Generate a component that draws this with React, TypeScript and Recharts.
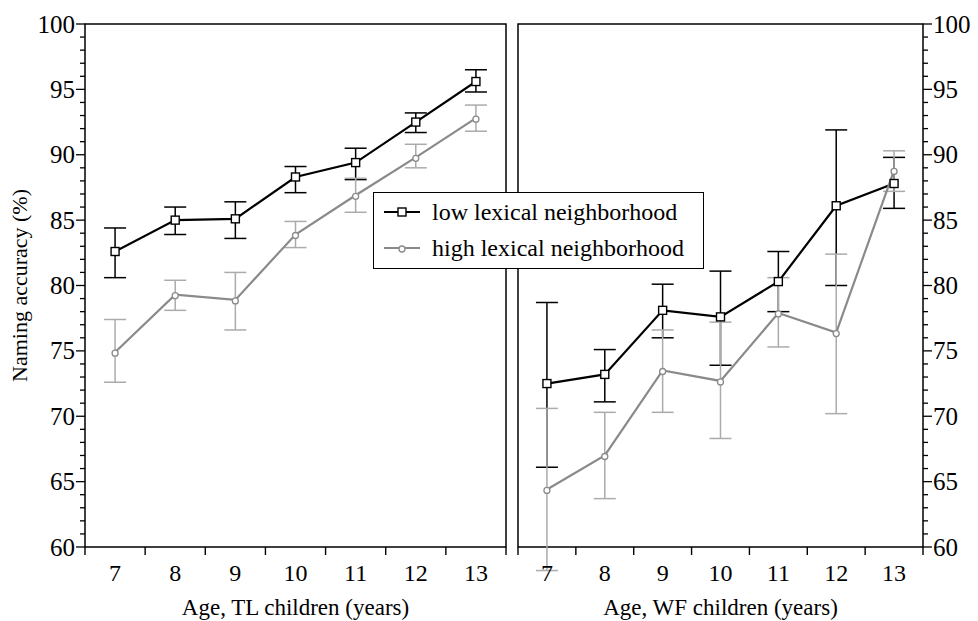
import { LineChart, Line, XAxis, YAxis, ErrorBar, ReferenceArea, Legend } from 'recharts'

// ages on both panels
const ages = [7, 8, 9, 10, 11, 12, 13]

// TL children
const tlLow = [82.6, 85.0, 85.1, 88.3, 89.4, 92.5, 95.6]
const tlLowLo = [80.6, 83.9, 83.6, 87.1, 88.1, 91.7, 94.8]
const tlLowHi = [84.4, 86.0, 86.4, 89.1, 90.5, 93.2, 96.5]
const tlHigh = [74.9, 79.3, 78.9, 83.9, 86.9, 89.8, 92.8]
const tlHighLo = [72.6, 78.1, 76.6, 82.9, 85.6, 89.0, 91.8]
const tlHighHi = [77.4, 80.4, 81.0, 84.9, 88.2, 90.8, 93.8]

// WF children
const wfLow = [72.5, 73.2, 78.1, 77.6, 80.3, 86.1, 87.8]
const wfLowLo = [66.1, 71.1, 76.0, 73.9, 78.0, 80.0, 85.9]
const wfLowHi = [78.7, 75.1, 80.1, 81.1, 82.6, 91.9, 89.8]
const wfHigh = [64.4, 67.0, 73.5, 72.7, 77.9, 76.4, 88.8]
const wfHighLo = [58.2, 63.7, 70.3, 68.3, 75.3, 70.2, 87.2]
const wfHighHi = [70.6, 70.3, 76.6, 77.2, 80.6, 82.4, 90.3]

// ticks: half values carry the tick marks, integers carry the labels
const xTicks = [6.5, 7, 7.5, 8, 8.5, 9, 9.5, 10, 10.5, 11, 11.5, 12, 12.5, 13, 13.5]
const yTicks = Array.from({ length: 41 }, (_, i) => 60 + i)

const FONT = "'Liberation Serif', 'Times New Roman', serif"
const GRAY_LINE = '#8a8a8a'
const GRAY_BAR = '#ababab'

function buildRows(
  low: number[], lowLo: number[], lowHi: number[],
  high: number[], highLo: number[], highHi: number[],
) {
  return ages.map((age, i) => ({
    age,
    low: low[i],
    lowErr: [low[i] - lowLo[i], lowHi[i] - low[i]],
    high: high[i],
    highErr: [high[i] - highLo[i], highHi[i] - high[i]],
  }))
}

const tlData = buildRows(tlLow, tlLowLo, tlLowHi, tlHigh, tlHighLo, tlHighHi)
const wfData = buildRows(wfLow, wfLowLo, wfLowHi, wfHigh, wfHighLo, wfHighHi)

const XTick = (props: any) => {
  const { x, y, payload } = props
  const v = payload.value as number
  if (!Number.isInteger(v)) {
    return <line x1={x} x2={x} y1={y} y2={y + 8} stroke="#000" strokeWidth={1.4} />
  }
  return (
    <text x={x} y={y + 26} textAnchor="middle" dominantBaseline="central" fontFamily={FONT} fontSize={24} fill="#000">
      {v}
    </text>
  )
}

const makeYTick = (side: 'left' | 'right') => (props: any) => {
  const { x, y, payload } = props
  const v = payload.value as number
  const major = v % 5 === 0
  const len = major ? 9 : 5
  const dir = side === 'left' ? -1 : 1
  return (
    <g>
      <line x1={x} x2={x + dir * len} y1={y} y2={y} stroke="#000" strokeWidth={1.3} />
      {major && (
        <text
          x={x + dir * (len + 1)}
          y={y}
          textAnchor={side === 'left' ? 'end' : 'start'}
          dominantBaseline="central"
          fontFamily={FONT}
          fontSize={25}
          fill="#000"
        >
          {v}
        </text>
      )}
    </g>
  )
}

const SquareDot = (props: any) => {
  const { cx, cy, index } = props
  if (cx == null || cy == null) return <g key={index} />
  return <rect key={index} x={cx - 4} y={cy - 4} width={8} height={8} fill="#fff" stroke="#000" strokeWidth={1.4} />
}

const CircleDot = (props: any) => {
  const { cx, cy, index } = props
  if (cx == null || cy == null) return <g key={index} />
  return <circle key={index} cx={cx} cy={cy + 1} r={3} fill="#fff" stroke={GRAY_LINE} strokeWidth={1.3} />
}

const LegendBox = (props: any) => {
  const payload = [...((props.payload ?? []) as any[])].sort((a, b) =>
    (a.dataKey === 'low' ? 0 : 1) - (b.dataKey === 'low' ? 0 : 1),
  )
  return (
    <div
      style={{
        width: '100%',
        height: '100%',
        boxSizing: 'border-box',
        border: '1.5px solid #000',
        background: '#fff',
        paddingTop: 1,
        fontFamily: FONT,
        fontSize: 24,
        color: '#000',
      }}
    >
      {payload.map((p) => {
        const isLow = p.dataKey === 'low'
        return (
          <div key={p.value} style={{ display: 'flex', alignItems: 'center', height: 36 }}>
            <svg width={56} height={20} style={{ flex: 'none', marginLeft: 2 }}>
              <line x1={8} x2={44} y1={10} y2={10} stroke={p.color} strokeWidth={2} />
              {isLow ? (
                <rect x={22} y={6} width={8} height={8} fill="#fff" stroke="#000" strokeWidth={1.4} />
              ) : (
                <circle cx={26} cy={11} r={3} fill="#fff" stroke={GRAY_LINE} strokeWidth={1.3} />
              )}
            </svg>
            <span style={{ whiteSpace: 'nowrap' }}>{p.value}</span>
          </div>
        )
      })}
    </div>
  )
}

interface PanelProps {
  data: ReturnType<typeof buildRows>
  width: number
  side: 'left' | 'right'
  xTitle: string
  showLegend?: boolean
}

function Panel({ data, width, side, xTitle, showLegend }: PanelProps) {
  const margin = side === 'left'
    ? { top: 24, right: 4, bottom: 0, left: 0 }
    : { top: 24, right: 0, bottom: 0, left: 8 }
  return (
    <LineChart width={width} height={621} data={data} margin={margin}>
      <XAxis
        dataKey="age"
        type="number"
        domain={[6.5, 13.5]}
        ticks={xTicks}
        interval={0}
        tickSize={0}
        tickMargin={0}
        axisLine={false}
        tickLine={false}
        height={74}
        tick={XTick}
        label={{
          content: (p: any) => {
            const vb = p.viewBox
            return (
              <text x={vb.x + vb.width / 2} y={vb.y + 60} textAnchor="middle" dominantBaseline="central" fontFamily={FONT} fontSize={23} fill="#000">
                {xTitle}
              </text>
            )
          },
        }}
      />
      <YAxis
        orientation={side}
        type="number"
        domain={[60, 100]}
        allowDataOverflow
        ticks={yTicks}
        interval={0}
        tickSize={0}
        tickMargin={0}
        axisLine={false}
        tickLine={false}
        width={side === 'left' ? 85 : 55}
        tick={makeYTick(side)}
        label={side === 'left' ? {
          content: (p: any) => {
            const vb = p.viewBox
            return (
              <text
                transform={`translate(${vb.x + 19}, ${vb.y + vb.height / 2}) rotate(-90)`}
                textAnchor="middle"
                dominantBaseline="central"
                fontFamily={FONT}
                fontSize={22}
                fill="#000"
              >
                Naming accuracy (%)
              </text>
            )
          },
        } : undefined}
      />
      <ReferenceArea x1={6.5} x2={13.5} y1={60} y2={100} fill="none" stroke="#000" strokeWidth={1.5} fillOpacity={0} />
      <Line
        dataKey="low"
        name="low lexical neighborhood"
        stroke="#000"
        strokeWidth={2.2}
        dot={SquareDot}
        activeDot={false}
        isAnimationActive={false}
      >
        <ErrorBar dataKey="lowErr" width={11} stroke="#000" strokeWidth={1.5} isAnimationActive={false} />
      </Line>
      <Line
        dataKey="high"
        name="high lexical neighborhood"
        stroke={GRAY_LINE}
        strokeWidth={2.2}
        dot={CircleDot}
        activeDot={false}
        isAnimationActive={false}
      >
        <ErrorBar dataKey="highErr" width={11} stroke={GRAY_BAR} strokeWidth={1.5} isAnimationActive={false} />
      </Line>
      {showLegend && (
        <Legend
          layout="horizontal"
          verticalAlign="middle"
          align="center"
          content={LegendBox}
          wrapperStyle={{ position: 'absolute', left: 373, top: 192, width: 331, height: 77, zIndex: 10 }}
        />
      )}
    </LineChart>
  )
}

export default function App() {
  return (
    <div style={{ position: 'absolute', left: 0, top: 0, width: 978, height: 621, background: '#fff' }}>
      <style>{'.recharts-wrapper g[clip-path] { clip-path: none !important; }'}</style>
      <div style={{ position: 'absolute', left: 0, top: 0 }}>
        <Panel data={tlData} width={510} side="left" xTitle="Age, TL children (years)" showLegend />
      </div>
      <div style={{ position: 'absolute', left: 510, top: 0 }}>
        <Panel data={wfData} width={468} side="right" xTitle="Age, WF children (years)" />
      </div>
    </div>
  )
}
